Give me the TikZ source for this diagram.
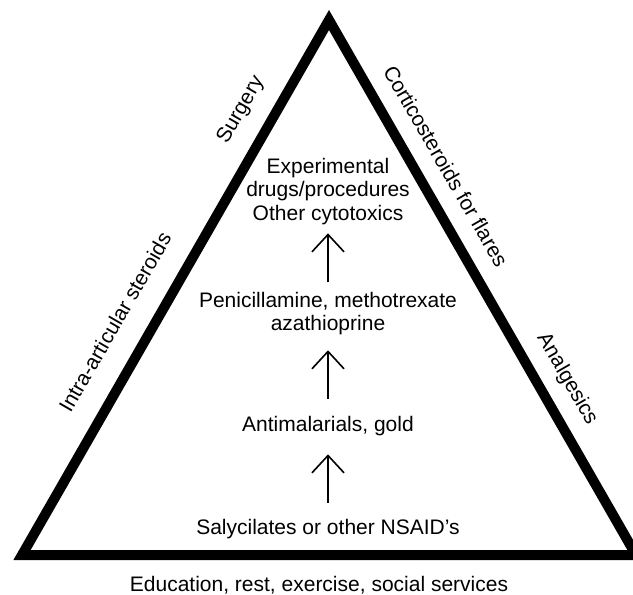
\documentclass[tikz,border=0pt]{standalone}
\usepackage{fontspec}
\setmainfont{Liberation Sans}
\usetikzlibrary{arrows.meta}

\begin{document}
\begin{tikzpicture}[x=0.75pt,y=-0.75pt,
		txt/.style={anchor=base,align=center,inner sep=0pt,font=\fontsize{15.75}{17.6}\selectfont},
		side/.style={inner sep=0pt,font=\fontsize{15.75}{17.6}\selectfont},
		climb/.style={line width=1.2pt,-{Straight Barb[length=13pt,width=24pt]}}]
		\clip (0,0) rectangle (633,594);
		\coordinate (A) at (329,20);
		\coordinate (B) at (22,555);
		\coordinate (C) at (636,555);
		\draw [line width=7.5pt,miter limit=10](A)--(B)--(C)--cycle;
		
		% base anchor sits on the last line
		\node (exp) at (328,220) [txt] {Experimental\\drugs/procedures\\Other cytotoxics};
		\node (pen) at (328,330.7) [txt] {Penicillamine, methotrexate\\azathioprine};
		\node (gold) at (328,431) [txt] {Antimalarials, gold};
		\node (nsaid) at (328,534) [txt] {Salycilates or other NSAID's};
		\node (edu) at (319,591) [txt] {Education, rest, exercise, social services};
		
		\node (surg) at (241,110) [side,rotate=60] {Surgery};
		\node (intra) at (115,322) [side,rotate=60] {Intra-articular steroids};
		\node (cort) at (446,166) [side,rotate=-60] {Corticosteroids for flares};
		\node (analg) at (567,379) [side,rotate=-60] {Analgesics};
		
		\draw [climb,shorten <=7pt,shorten >=6.5pt] (pen.north)--(exp.south);
		\draw [climb,shorten <=12.5pt,shorten >=11.2pt] (gold.north)--(pen.south);
		\draw [climb,shorten <=11.7pt,shorten >=14pt] (nsaid.north)--(gold.south);
	\end{tikzpicture}
\end{document}
